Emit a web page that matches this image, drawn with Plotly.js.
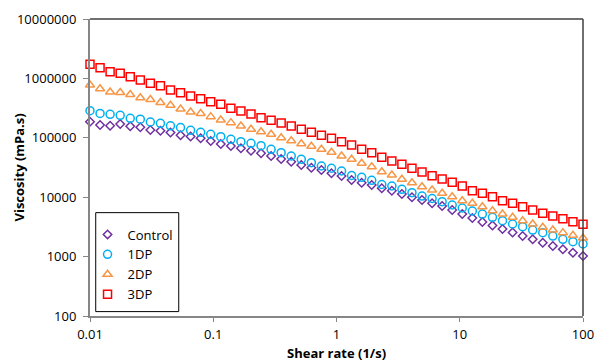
<!DOCTYPE html>
<html>
<head>
<meta charset="utf-8">
<script src="https://cdn.plot.ly/plotly-3.0.1.min.js"></script>
<style>
html,body{margin:0;padding:0;background:#fff;}
#chart{width:594px;height:362px;}
</style>
</head>
<body>
<div id="chart"></div>
<script>
// Shear rate (1/s)
const shearRate = [0.01, 0.01207, 0.01456, 0.01758, 0.02121, 0.0256, 0.03089, 0.03728, 0.04498, 0.05429,
  0.06551, 0.07906, 0.09541, 0.1151, 0.139, 0.1677, 0.2024, 0.2442, 0.2947, 0.3556,
  0.4292, 0.518, 0.6251, 0.7543, 0.9103, 1.099, 1.326, 1.6, 1.931, 2.33,
  2.812, 3.393, 4.095, 4.942, 5.964, 7.197, 8.685, 10.48, 12.65, 15.26,
  18.42, 22.23, 26.83, 32.38, 39.07, 47.15, 56.9, 68.67, 82.86, 100];

// Viscosity (mPa.s)
const control = [186600, 164200, 159800, 170700, 156200, 150200, 135300, 131700, 122800, 110600,
  105200, 98100, 88400, 78600, 72800, 66600, 60700, 54800, 49400, 44000,
  39600, 34800, 31400, 28700, 25300, 22750, 19480, 17540, 16050, 14120,
  12870, 11320, 9960, 8970, 7900, 7110, 6090, 5210, 4460, 3820,
  3340, 2910, 2550, 2220, 1955, 1714, 1508, 1327, 1163, 1024];

const dp1 = [286000, 257000, 249000, 239000, 213000, 206000, 184500, 175400, 159000, 149000,
  133800, 123800, 114500, 104300, 94300, 86000, 80800, 73600, 64000, 56100,
  49400, 43500, 38100, 33500, 30700, 27600, 23200, 21600, 19250, 16360,
  15440, 13580, 11900, 10470, 9510, 8400, 7390, 6580, 5860, 5210,
  4590, 4020, 3540, 3190, 2800, 2530, 2220, 1955, 1780, 1630];

const dp2 = [774000, 671000, 590000, 579000, 536000, 471000, 441000, 393000, 353000, 305000,
  272000, 257000, 227000, 199000, 180000, 158000, 139000, 126700, 114500, 100400,
  89400, 79600, 71900, 64000, 57000, 49400, 43500, 37200, 32600, 26900,
  23600, 20000, 17540, 15020, 13220, 11630, 10200, 8730, 7900, 6920,
  5930, 5210, 4590, 4020, 3540, 3110, 2800, 2530, 2280, 2060];

const dp3 = [1728000, 1514000, 1297000, 1219000, 1068000, 940000, 827000, 754000, 638000, 574000,
  505000, 455000, 404000, 366000, 314000, 283000, 252000, 218000, 197000, 177500,
  158000, 139000, 123800, 110200, 98100, 86000, 75600, 64000, 56100, 47000,
  40700, 35800, 30700, 26600, 23000, 20250, 17800, 15440, 12870, 11630,
  10200, 8730, 7900, 6920, 6090, 5360, 4830, 4350, 3870, 3500];

const seriesNames = ['Control', '1DP', '2DP', '3DP'];
const xTickVals = [0.01, 0.1, 1, 10, 100];
const xTickText = ['0.01', '0.1', '1', '10', '100'];
const yTickVals = [100, 1000, 10000, 100000, 1000000, 10000000];
const yTickText = ['100', '1000', '10000', '100000', '1000000', '10000000'];
const xTitle = 'Shear rate (1/s)';
const yTitle = 'Viscosity (mPa.s)';

const FONT = '"Open Sans", "Noto Sans", sans-serif';

function mk(y, name, symbol, color, size) {
  return {
    x: shearRate, y: y, name: name, type: 'scatter', mode: 'markers', cliponaxis: false,
    marker: {symbol: symbol, size: size, color: color, line: {color: color, width: 1.5}}
  };
}

const data = [
  mk(control, seriesNames[0], 'diamond-open', '#7030A0', 6.5),
  mk(dp1, seriesNames[1], 'circle-open', '#00B0F0', 8),
  mk(dp2, seriesNames[2], 'triangle-up-open', '#F79646', 8),
  mk(dp3, seriesNames[3], 'square-open', '#FF0000', 8)
];

const layout = {
  width: 594, height: 362,
  margin: {l: 90, r: 11, t: 19, b: 46},
  paper_bgcolor: '#fff', plot_bgcolor: '#fff',
  font: {family: FONT, size: 13, color: '#000'},
  showlegend: true,
  legend: {x: -0.005, xanchor: 'left', y: 0.325, yanchor: 'top', bgcolor: 'rgba(0,0,0,0)',
    font: {family: FONT, size: 13, color: '#000'}, tracegroupgap: 0},
  xaxis: {
    type: 'log', range: [-2, 2], tickmode: 'array', tickvals: xTickVals, ticktext: xTickText,
    showgrid: false, zeroline: false, showline: true, linecolor: '#868686', linewidth: 2,
    ticks: 'outside', ticklen: 4, tickcolor: '#868686', tickwidth: 1, ticklabelstandoff: 1,
    ticklabeloverflow: 'allow',
    tickfont: {family: FONT, size: 13, color: '#000'}
  },
  yaxis: {
    type: 'log', range: [2, 7], tickmode: 'array', tickvals: yTickVals, ticktext: yTickText,
    showgrid: false, zeroline: false, showline: true, linecolor: '#868686', linewidth: 2,
    ticks: 'outside', ticklen: 5, tickcolor: '#868686', tickwidth: 1, ticklabelstandoff: 4,
    tickfont: {family: FONT, size: 13, color: '#000'}
  },
  annotations: [
    {text: '<b>' + xTitle + '</b>', xref: 'paper', yref: 'paper', x: 0.5, y: -0.125,
     xanchor: 'center', yanchor: 'middle', showarrow: false, font: {family: FONT, size: 13, color: '#000'}},
    {text: '<b>' + yTitle + '</b>', xref: 'paper', yref: 'paper', x: -0.146, y: 0.5, textangle: -90,
     xanchor: 'center', yanchor: 'middle', showarrow: false, font: {family: FONT, size: 13, color: '#000'}}
  ],
  shapes: [
    {type: 'line', xref: 'paper', yref: 'paper', x0: 0, x1: 1, y0: 1, y1: 1, line: {color: '#404040', width: 1.5}},
    {type: 'line', xref: 'paper', yref: 'paper', x0: 1, x1: 1, y0: 0, y1: 1, line: {color: '#404040', width: 1.5}},
    {type: 'rect', xref: 'paper', yref: 'paper', x0: 0.0116, x1: 0.18, y0: 0.0148, y1: 0.348,
     line: {color: '#000', width: 1}, fillcolor: '#fff', layer: 'below'}
  ]
};

Plotly.newPlot('chart', data, layout, {displayModeBar: false, staticPlot: true});
</script>
</body>
</html>
